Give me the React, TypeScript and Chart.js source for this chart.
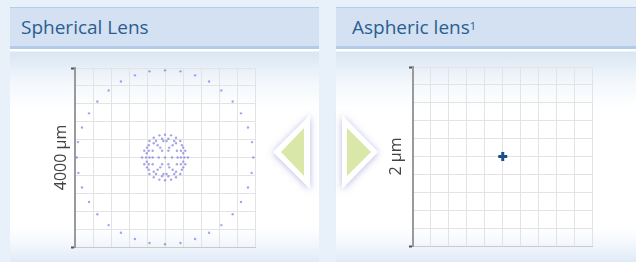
import React, { useEffect, useRef } from "react";
import { Chart, registerables } from "chart.js";

Chart.register(...registerables);

// ---- data ----
const leftTitle = "Spherical Lens";
const rightTitle = "Aspheric lens";
const leftAxisLabel = "4000 µm";
const rightAxisLabel = "2 µm";

// spherical lens spot diagram, outer ring (µm)
const outerX = [-344, 0, 344, -669, 669, -979, 979, -1252, 1252, -1504, 1504, -1688, 1688, -1844, 1844, -1933, 1933, -1962, 1962, -1925, 1925, -1844, 1844, -1688, 1688, -1504, 1504, -1252, 1252, -979, 979, -669, 669, -344, 344, 0];
const outerY = [1925, 1947, 1925, 1836, 1836, 1697, 1697, 1497, 1497, 1253, 1253, 987, 987, 669, 669, 344, 344, 0, 0, -344, -344, -669, -669, -994, -994, -1267, -1267, -1511, -1511, -1681, -1681, -1822, -1822, -1911, -1911, -1940];

// spherical lens spot diagram, central cluster (µm)
const innerX = [
  -125, 135, 0, -250, 245, -65, 75, -345, -200, -35, 35, 205, 340, -250, 245, -360, -165, 170, 375, -400, -105, 95, 405,
  -460, -360, -275, -65, 75, 265, 355, 450, -405, 405,
  -510, -420, -345, -275, -140, 0, 155, 280, 355, 430, 510,
  -405, 405, -460, -360, -275, -65, 75, 265, 355, 450, -400, -105, 95, 405, -360, -165, 170, 375,
  -250, 245, -345, -200, -35, 35, 205, 340, -65, 75, -250, 245, 0, -125, 135,
];
const innerY = [
  495, 495, 510, 440, 440, 420, 420, 370, 370, 370, 370, 370, 370, 320, 320, 275, 275, 275, 275, 220, 220, 220, 220,
  150, 150, 150, 150, 150, 150, 150, 150, 95, 95,
  0, 0, 0, 0, 0, 0, 0, 0, 0, 0, 0,
  -95, -95, -150, -150, -150, -150, -150, -150, -150, -150, -220, -220, -220, -220, -275, -275, -275, -275,
  -320, -320, -370, -370, -370, -370, -370, -370, -420, -420, -440, -440, -510, -495, -495,
];

// aspheric lens spot (µm)
const asphX = [0];
const asphY = [0];

const leftRange = [-2000, 2000];
const leftStep = 400;
const rightRange = [-1, 1];
const rightStep = 0.2;

const FONT = "'Open Sans', 'Noto Sans', sans-serif";

function toPoints(xs: number[], ys: number[]) {
  return xs.map((x, i) => ({ x, y: ys[i] }));
}

function makeOptions(range: number[], step: number, label: string, yWidth: number): any {
  return {
    animation: false,
    responsive: false,
    maintainAspectRatio: false,
    events: [],
    layout: { padding: { left: 0, top: 10, right: 220 - yWidth - 180, bottom: 11 } },
    plugins: { legend: { display: false }, tooltip: { enabled: false } },
    scales: {
      x: {
        type: "linear",
        min: range[0],
        max: range[1],
        ticks: { display: false, stepSize: step },
        grid: { color: "#e3e3e3", lineWidth: 1, drawTicks: false },
        border: { color: "#c9c9c9", width: 1 },
        afterFit: (s: any) => {
          s.height = 0;
        },
      },
      y: {
        type: "linear",
        min: range[0],
        max: range[1],
        ticks: { display: false, stepSize: step },
        grid: {
          color: "#e3e3e3",
          lineWidth: 1,
          drawTicks: true,
          tickLength: 4,
          tickWidth: 2,
          tickColor: (ctx: any) =>
            ctx.index === 0 || ctx.index === 10 ? "#555555" : "rgba(0,0,0,0)",
        },
        border: { color: "#9a9a9a", width: 2 },
        title: {
          display: true,
          text: label,
          color: "#444444",
          font: { size: 16, family: FONT },
          padding: { top: 7, bottom: 0 },
        },
        afterFit: (s: any) => {
          s.width = yWidth;
        },
      },
    },
  };
}

function SpotChart(props: {
  datasets: any[];
  range: number[];
  step: number;
  label: string;
  yWidth: number;
  style: React.CSSProperties;
}) {
  const ref = useRef<HTMLCanvasElement | null>(null);
  useEffect(() => {
    if (!ref.current) return;
    const chart = new Chart(ref.current, {
      type: "scatter",
      data: { datasets: props.datasets },
      options: makeOptions(props.range, props.step, props.label, props.yWidth),
    });
    return () => chart.destroy();
  }, []);
  return (
    <canvas
      ref={ref}
      width={220}
      height={200}
      style={{ position: "absolute", width: 220, height: 200, ...props.style }}
    />
  );
}

const headerStyle = (left: number, width: number): React.CSSProperties => ({
  position: "absolute",
  left,
  top: 7,
  width,
  height: 38,
  background: "#d3e1f2",
  borderTop: "1px solid #b6cdea",
  borderBottom: "3px solid #b3cbe9",
});

const contentStyle = (left: number, width: number): React.CSSProperties => ({
  position: "absolute",
  left,
  top: 49,
  width,
  height: 213,
  background:
    "linear-gradient(to bottom, #ffffff 0px, #ffffff 2px, #dae6f4 3px, #f4f8fc 35px, #ffffff 60px, #ffffff 178px, #f3f7fc 195px, #e0eaf7 213px)",
});

const titleStyle = (left: number): React.CSSProperties => ({
  position: "absolute",
  left,
  top: 14,
  fontFamily: FONT,
  fontSize: 19,
  lineHeight: "26px",
  color: "#2c5d91",
  whiteSpace: "nowrap",
});

export default function App() {
  const spotColor = "rgba(105,105,220,0.6)";
  const leftSets = [
    {
      data: toPoints(outerX, outerY),
      pointRadius: 1.2,
      pointBackgroundColor: spotColor,
      pointBorderWidth: 0,
      pointStyle: "circle",
    },
    {
      data: toPoints(innerX, innerY),
      pointRadius: 1.2,
      pointBackgroundColor: spotColor,
      pointBorderWidth: 0,
      pointStyle: "circle",
    },
  ];
  const rightSets = [
    {
      data: toPoints(asphX, asphY),
      pointRadius: 4.5,
      pointStyle: "cross",
      pointBorderColor: "#1d4f8a",
      pointBorderWidth: 3,
    },
  ];

  return (
    <div
      style={{
        position: "fixed",
        left: 0,
        top: 0,
        width: 636,
        height: 262,
        overflow: "hidden",
        background: "#e8f0fa",
      }}
    >
      {/* left panel */}
      <div style={headerStyle(10, 309)} />
      <div style={contentStyle(10, 309)} />
      <div style={titleStyle(21)}>{leftTitle}</div>

      {/* right panel */}
      <div style={headerStyle(336, 300)} />
      <div style={contentStyle(336, 300)} />
      <div style={titleStyle(352)}>
        {rightTitle}
        <sup style={{ fontSize: 11, verticalAlign: "top", position: "relative", top: -1 }}>1</sup>
      </div>
      <div
        style={{
          position: "absolute",
          left: 336,
          top: 127,
          width: 52,
          height: 72,
          background: "#ffffff",
        }}
      />

      <SpotChart
        datasets={leftSets}
        range={leftRange}
        step={leftStep}
        label={leftAxisLabel}
        yWidth={30}
        style={{ left: 45, top: 58 }}
      />
      <SpotChart
        datasets={rightSets}
        range={rightRange}
        step={rightStep}
        label={rightAxisLabel}
        yWidth={33}
        style={{ left: 380, top: 57 }}
      />

      {/* navigation arrows */}
      <svg
        width={636}
        height={262}
        style={{ position: "absolute", left: 0, top: 0, pointerEvents: "none" }}
      >
        <defs>
          <filter id="sh" x="-50%" y="-50%" width="200%" height="200%">
            <feDropShadow dx="0" dy="1" stdDeviation="3.5" floodColor="#7a7ad0" floodOpacity="0.55" />
          </filter>
        </defs>
        <polygon points="273,152 310,115 310,189" fill="#ffffff" filter="url(#sh)" />
        <polygon points="281,152 304,128 304,176" fill="#d9e7a9" />
        <polygon points="342,115 342,189 378,152" fill="#ffffff" filter="url(#sh)" />
        <polygon points="347,128 347,176 371,152" fill="#d9e7a9" />
      </svg>
    </div>
  );
}
